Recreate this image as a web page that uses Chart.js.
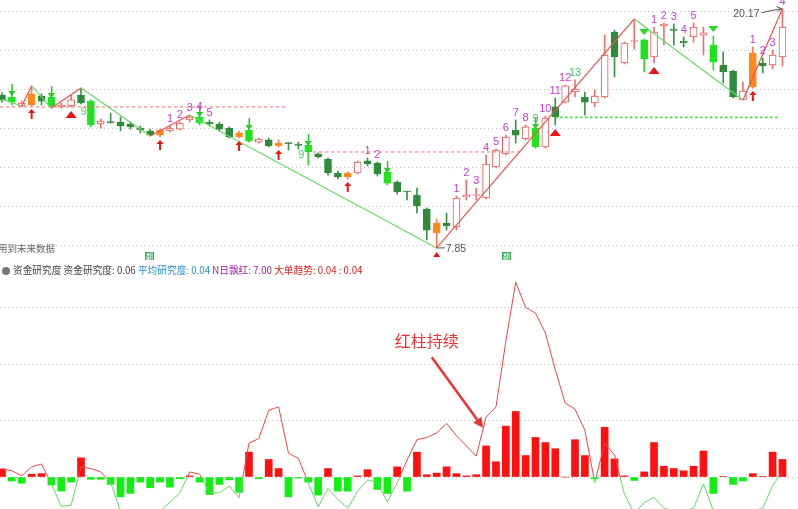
<!DOCTYPE html>
<html>
<head>
<meta charset="utf-8">
<script src="https://cdn.jsdelivr.net/npm/chart.js@4.4.1/dist/chart.umd.min.js"></script>
<style>
  body { margin: 0; background: #fff; }
  #wrap { position: relative; width: 798px; height: 509px; overflow: hidden; background: #fff;
          font-family: "Noto Sans CJK SC", "Liberation Sans", sans-serif; }
  #priceBox { position: absolute; left: 0; top: 0; width: 798px; height: 262px; }
  #flowBox { position: absolute; left: 0; top: 278px; width: 798px; height: 231px; }
  #header { position: absolute; left: 2px; top: 263px; height: 14px; line-height: 14px; font-size: 9.7px;
            white-space: nowrap; color: #444; }
  #header .ico { display: inline-block; width: 8px; height: 8px; border-radius: 50%; background: #777;
                 vertical-align: -1px; margin-right: 3px; }
  #future { position: absolute; left: -2px; top: 241px; font-size: 9.5px; color: #666; }
  .tag { position: absolute; top: 252px; width: 9px; height: 8px; background: #3aa855; color: #fff;
         font-size: 7px; line-height: 8px; text-align: center; }
</style>
</head>
<body>
<div id="wrap">
  <div id="priceBox"><canvas id="priceChart"></canvas></div>
  <div id="future">用到未来数据</div>
  <div class="tag" style="left:145px">翻</div>
  <div class="tag" style="left:502px">翻</div>
  <div id="header"><span class="ico"></span>资金研究度 资金研究度: 0.06 <span style="color:#2a8fd8">平均研究度: 0.04</span> <span style="color:#a020a0">N日飘红: 7.00</span> <span style="color:#e02020">大单趋势: 0.04 : 0.04</span></div>
  <div id="flowBox"><canvas id="flowChart"></canvas></div>
</div>
<script>
// candles
const opens = [15.72,15.62,15.16,15.21,15.67,15.62,15.11,15.16,15.72,15.41,
  14.23,14.33,14.33,14.23,14.02,13.87,13.66,13.87,13.97,14.44,
  14.59,14.33,14.23,14.02,13.56,13.92,13.30,13.41,13.10,13.25,
  13.15,13.15,12.69,12.43,11.71,11.50,11.71,12.33,12.22,11.76,
  11.24,10.75,10.57,9.85,8.62,9.13,8.93,10.47,10.55,10.42,
  12.02,12.69,13.92,13.46,14.02,13.05,15.11,15.36,15.88,15.62,
  15.31,15.62,18.97,17.37,18.48,18.56,17.68,19.28,19.09,18.50,
  18.71,18.81,18.30,17.27,16.96,15.47,16.14,17.37,17.27,17.68];
const highs = [15.83,15.83,15.41,16.19,15.78,15.72,15.31,15.72,16.08,15.47,
  14.49,14.80,14.59,14.33,14.13,13.97,13.97,14.13,14.33,14.69,
  14.74,14.44,14.33,14.08,13.87,14.08,13.51,13.51,13.41,13.27,
  13.30,13.25,12.74,12.48,11.81,11.76,12.33,12.48,12.27,11.86,
  11.30,10.78,10.93,9.91,9.34,9.65,10.52,11.35,10.93,12.63,
  12.94,13.66,14.44,14.18,14.13,14.64,15.57,16.24,16.50,15.88,
  15.98,18.81,19.07,18.45,19.64,18.61,19.22,19.43,19.38,18.71,
  19.43,19.22,18.76,17.94,17.01,16.39,18.20,17.63,18.04,20.17];
const lows = [15.36,15.21,15.11,15.16,15.21,15.05,15.05,15.11,15.26,14.08,
  14.02,14.28,13.87,13.97,13.77,13.61,13.56,13.82,13.92,14.33,
  14.18,14.13,13.87,13.51,13.51,13.30,13.25,13.05,13.05,12.89,
  12.94,12.12,12.48,11.60,11.40,11.40,11.66,12.07,11.55,11.09,
  10.63,10.32,9.65,8.26,7.85,8.77,8.77,10.32,10.32,10.37,
  11.97,12.63,13.25,13.41,12.99,12.99,14.18,15.31,15.62,14.69,
  15.11,15.57,16.65,17.32,18.09,16.91,17.37,18.30,18.30,18.20,
  18.45,17.78,17.01,16.34,15.57,15.47,16.08,16.86,17.06,17.22];
const closes = [15.47,15.36,15.31,15.78,15.41,15.16,15.21,15.47,15.31,14.18,
  14.38,14.30,14.13,14.08,13.92,13.66,13.92,14.02,14.28,14.59,
  14.28,14.23,13.97,13.56,13.77,13.35,13.46,13.10,13.25,13.22,
  13.13,12.79,12.53,11.71,11.50,11.71,12.27,12.17,11.66,11.19,
  10.73,10.73,10.01,8.77,9.13,8.98,10.42,10.57,10.58,12.17,
  12.89,13.56,13.66,14.08,13.05,14.54,14.59,16.19,16.03,15.36,
  15.67,17.78,17.68,18.40,18.52,17.58,18.97,19.38,19.05,18.40,
  19.22,18.92,17.42,16.91,15.62,15.93,17.89,17.22,17.78,19.22];
// u = hollow red, d = dark green, g = bright green, o = orange
const kinds = ['d','g','u','o','d','g','u','u','d','g',
  'u','d','d','d','d','d','o','u','u','u',
  'g','d','d','d','o','g','u','d','o','d',
  'd','g','d','d','d','o','u','d','d','g',
  'd','d','d','d','o','d','u','u','u','u',
  'u','u','d','u','g','u','d','u','u','d',
  'u','u','d','u','u','g','u','u','d','d',
  'u','u','g','d','d','u','o','d','u','u'];

// zigzag pivots
const pivotIdx = [0, 2, 3, 5, 8, 15, 19, 44, 64, 75, 79];
const pivotPrice = [15.50, 15.16, 16.19, 15.05, 16.08, 13.61, 14.69, 7.85, 19.64, 15.47, 20.17];

// dashed levels
const redLevels = [15.11, 12.79];
const redLevelSpans = [[-0.2, 28.9], [31.5, 52.7]];
const greenLevel = 14.57;
const greenLevelSpan = [56.0, 78.7];
const priceGrid = [8, 10, 12, 14, 16, 18, 20];

// count labels over candles
const countIdx = [17,18,19,20,21, 37,38, 46,47,48,49,50,51,52,53,54,55,56,57,58, 66,67,68,69,70, 76,77,78,79];
const countText = ['1','2','3','4','5', '1','2', '1','2','3','4','5','6','7','8','9','10','11','12','13', '1','2','3','4','5', '1','2','3','4'];
const greenCounts = [54, 58];
const setupNine = [9, 31];

// markers
const upArrowIdx = [3, 16, 24, 28, 35, 76];
const redTriIdx = [7, 44, 56, 66];
const greenTriIdx = [65, 72];
const greenArrowIdx = [1, 5, 20, 25, 31, 39, 54];

// lower panel
const flowBars = [0.14,-0.07,-0.11,0.05,0.06,-0.14,-0.25,-0.09,0.34,-0.04,
  -0.04,-0.13,-0.35,-0.29,-0.09,-0.19,-0.09,-0.18,-0.03,0.02,
  -0.09,-0.31,-0.13,-0.05,-0.27,0.44,-0.03,0.31,0.15,-0.35,
  -0.02,-0.09,-0.32,0.15,-0.25,-0.25,0.02,0.13,-0.22,-0.29,
  0.18,-0.25,0.44,0.04,0.07,0.18,0.06,0.02,0.04,0.55,
  0.27,0.90,1.16,0.38,0.70,0.61,0.50,0.00,0.66,0.38,
  -0.03,0.88,0.32,0.02,-0.06,0.09,0.61,0.19,0.15,0.11,
  0.19,0.46,-0.29,0.01,-0.13,-0.07,0.06,0.01,0.44,0.31];
const flowLine = [0.15,0.11,0.02,0.18,0.23,-0.12,-0.52,-0.50,0.18,0.15,
  0.09,-0.10,-0.60,-0.75,-0.80,-0.70,-0.60,-0.45,-0.28,0.09,
  0.05,-0.28,-0.28,-0.16,-0.37,0.60,0.68,1.18,1.24,0.42,
  0.33,-0.10,-0.53,-0.20,-0.40,-0.55,-0.25,-0.05,-0.10,-0.44,
  -0.10,0.30,0.66,0.70,0.78,0.95,0.73,0.55,0.37,1.06,
  1.24,2.40,3.45,3.00,2.90,2.55,1.90,1.31,1.20,0.83,
  -0.10,0.60,0.39,-0.30,-0.65,-0.45,-0.36,-0.55,-0.60,-0.60,
  -0.55,-0.12,-0.60,-0.70,-0.70,-0.65,-0.60,-0.55,-0.15,0.10];
const flowGrid = [0, 1, 2, 3];
const notePoint = [43.0, 2.41];
const noteArrow = [[43.5, 2.12], [48.7, 0.87]];

const RED = '#f04646';
const GREEN_LINE = '#62d862';
const fillOf = { u: '#ffffff', d: '#2e8b3a', g: '#1ee41e', o: '#ff8a1a' };
const edgeOf = { u: '#f05555', d: '#2e8b3a', g: '#1ee41e', o: '#ff8a1a' };
const wickOf = { u: '#f07070', d: '#3a9646', g: '#2edc2e', o: '#f07a5a' };

const days = opens.map((_, i) => i);
const xRange = { min: -0.2, max: 80.57 };

function hiddenY(min, max, grid) {
    return {
        min: min, max: max,
        ticks: { display: false },
        grid: { color: '#c4c4c4', drawTicks: false, lineWidth: 1 },
        border: { display: false, dash: [1, 3] },
        afterBuildTicks: s => { s.ticks = grid.map(v => ({ value: v })); },
        afterFit: s => { s.width = 0; }
    };
}

function triangle(ctx, x, y, w, h, down, color) {
    ctx.fillStyle = color;
    ctx.beginPath();
    if (down) {
        ctx.moveTo(x - w / 2, y - h); ctx.lineTo(x + w / 2, y - h); ctx.lineTo(x, y);
    } else {
        ctx.moveTo(x - w / 2, y + h); ctx.lineTo(x + w / 2, y + h); ctx.lineTo(x, y);
    }
    ctx.closePath();
    ctx.fill();
}

const priceMarks = {
    id: 'priceMarks',
    afterDatasetsDraw(chart) {
        const { ctx, scales: { x, y } } = chart;
        ctx.save();

        // red up arrows under the candle
        upArrowIdx.forEach(i => {
            const px = x.getPixelForValue(i), py = y.getPixelForValue(lows[i]) + 3;
            triangle(ctx, px, py, 7, 4, false, '#ee1111');
            ctx.fillRect(px - 1, py + 4, 2, 6);
        });
        // red triangles
        redTriIdx.forEach(i => {
            const px = x.getPixelForValue(i), py = y.getPixelForValue(lows[i]) + 4;
            triangle(ctx, px, py, i === 44 ? 7 : 11, i === 44 ? 5 : 7, false, '#ee1111');
        });
        // green down triangles above
        greenTriIdx.forEach(i => {
            const px = x.getPixelForValue(i), py = y.getPixelForValue(highs[i]) - 4;
            triangle(ctx, px, py, 10, 6, true, '#22dd22');
        });
        // green down arrows on top of the candle
        greenArrowIdx.forEach(i => {
            const px = x.getPixelForValue(i), py = y.getPixelForValue(highs[i]) + 3;
            ctx.fillStyle = '#22cc22';
            ctx.fillRect(px - 0.5, py - 12, 1.5, 8);
            triangle(ctx, px, py, 7, 5, true, '#22cc22');
        });

        // count labels
        ctx.font = '11px "Liberation Sans", Arial, sans-serif';
        ctx.textAlign = 'center';
        ctx.textBaseline = 'middle';
        countIdx.forEach((i, k) => {
            ctx.fillStyle = greenCounts.includes(i) ? '#33cc55' : '#c43cd0';
            ctx.fillText(countText[k], x.getPixelForValue(i), y.getPixelForValue(highs[i]) - 7);
        });
        ctx.fillStyle = '#55cc66';
        setupNine.forEach(i => {
            ctx.fillText('9', x.getPixelForValue(i) - 7, y.getPixelForValue(highs[i]) + 12);
        });

        // low / high price notes
        ctx.font = '10.5px "Liberation Sans", Arial, sans-serif';
        ctx.fillStyle = '#555';
        ctx.strokeStyle = '#555';
        ctx.lineWidth = 1;
        const lx = x.getPixelForValue(44), ly = y.getPixelForValue(7.85);
        ctx.beginPath(); ctx.moveTo(lx, ly); ctx.lineTo(lx + 8, ly); ctx.stroke();
        ctx.textAlign = 'left';
        ctx.fillText('7.85', lx + 9, ly + 1);
        const hx = x.getPixelForValue(79), hy = y.getPixelForValue(20.17);
        ctx.textAlign = 'right';
        ctx.fillText('20.17', hx - 23, hy + 5);
        ctx.beginPath(); ctx.moveTo(hx - 21, hy + 4); ctx.lineTo(hx - 1, hy); ctx.stroke();
        ctx.beginPath(); ctx.moveTo(hx - 1, hy); ctx.lineTo(hx - 6, hy - 2); ctx.moveTo(hx - 1, hy); ctx.lineTo(hx - 5, hy + 3); ctx.stroke();

        ctx.restore();
    }
};

new Chart(document.getElementById('priceChart'), {
    type: 'bar',
    data: {
        datasets: [
            {
                type: 'line',
                data: pivotIdx.map((i, k) => ({ x: i, y: pivotPrice[k] })),
                borderWidth: 1.2,
                pointRadius: 0,
                segment: { borderColor: c => c.p1.parsed.y > c.p0.parsed.y ? '#f05050' : '#66dd66' },
                order: 0
            },
            ...redLevels.map((p, k) => ({
                type: 'line',
                data: redLevelSpans[k].map(i => ({ x: i, y: p })),
                borderColor: '#f06a6a',
                borderWidth: 1,
                borderDash: [3, 3],
                pointRadius: 0,
                order: 1
            })),
            {
                type: 'line',
                data: greenLevelSpan.map(i => ({ x: i, y: greenLevel })),
                borderColor: '#11ee11',
                borderWidth: 1.6,
                borderDash: [2, 3],
                pointRadius: 0,
                order: 1
            },
            {
                data: days.map(i => ({ x: i, y: [opens[i], closes[i]] })),
                backgroundColor: kinds.map(k => fillOf[k]),
                borderColor: kinds.map(k => edgeOf[k]),
                borderWidth: 1,
                borderSkipped: false,
                barThickness: 7,
                minBarLength: 1,
                grouped: false,
                order: 2
            },
            {
                data: days.map(i => ({ x: i, y: [lows[i], highs[i]] })),
                backgroundColor: kinds.map(k => wickOf[k]),
                barThickness: 1,
                grouped: false,
                order: 3
            }
        ]
    },
    options: {
        animation: false,
        responsive: true,
        maintainAspectRatio: false,
        layout: { padding: 0 },
        plugins: { legend: { display: false }, tooltip: { enabled: false } },
        scales: {
            x: { type: 'linear', min: xRange.min, max: xRange.max, offset: false, display: false },
            y: hiddenY(7.125, 20.616, priceGrid)
        }
    },
    plugins: [priceMarks]
});

const flowNote = {
    id: 'flowNote',
    afterDatasetsDraw(chart) {
        const { ctx, scales: { x, y } } = chart;
        ctx.save();
        ctx.fillStyle = '#f03030';
        ctx.font = '16px "Noto Sans CJK SC", sans-serif';
        ctx.textAlign = 'center';
        ctx.textBaseline = 'middle';
        ctx.fillText('红柱持续', x.getPixelForValue(notePoint[0]), y.getPixelForValue(notePoint[1]));

        const fx = x.getPixelForValue(noteArrow[0][0]), fy = y.getPixelForValue(noteArrow[0][1]);
        const tx = x.getPixelForValue(noteArrow[1][0]), ty = y.getPixelForValue(noteArrow[1][1]);
        const ang = Math.atan2(ty - fy, tx - fx);
        const hx = tx - 10 * Math.cos(ang), hy = ty - 10 * Math.sin(ang);
        ctx.strokeStyle = '#f03030';
        ctx.lineWidth = 2.5;
        ctx.beginPath(); ctx.moveTo(fx, fy); ctx.lineTo(hx, hy); ctx.stroke();
        ctx.beginPath();
        ctx.moveTo(tx, ty);
        ctx.lineTo(hx + 5 * Math.sin(ang), hy - 5 * Math.cos(ang));
        ctx.lineTo(hx - 5 * Math.sin(ang), hy + 5 * Math.cos(ang));
        ctx.closePath();
        ctx.fill();
        ctx.restore();
    }
};

new Chart(document.getElementById('flowChart'), {
    type: 'bar',
    data: {
        datasets: [
            {
                type: 'line',
                data: days.map(i => ({ x: i, y: flowLine[i] })),
                borderWidth: 1,
                pointRadius: 0,
                borderColor: c => {
                    const { chart } = c;
                    const area = chart.chartArea;
                    if (!area) return RED;
                    const y0 = chart.scales.y.getPixelForValue(0);
                    const t = Math.min(1, Math.max(0, (y0 - area.top) / (area.bottom - area.top)));
                    const g = chart.ctx.createLinearGradient(0, area.top, 0, area.bottom);
                    g.addColorStop(0, RED); g.addColorStop(t, RED);
                    g.addColorStop(t, GREEN_LINE); g.addColorStop(1, GREEN_LINE);
                    return g;
                },
                order: 0
            },
            {
                data: days.map(i => ({ x: i, y: flowBars[i] })),
                backgroundColor: flowBars.map(v => v >= 0 ? '#ff1010' : '#11ee11'),
                barThickness: 7,
                grouped: false,
                order: 1
            }
        ]
    },
    options: {
        animation: false,
        responsive: true,
        maintainAspectRatio: false,
        layout: { padding: 0 },
        plugins: { legend: { display: false }, tooltip: { enabled: false } },
        scales: {
            x: { type: 'linear', min: xRange.min, max: xRange.max, offset: false, display: false },
            y: hiddenY(-0.566, 3.522, flowGrid)
        }
    },
    plugins: [flowNote]
});
</script>
</body>
</html>
